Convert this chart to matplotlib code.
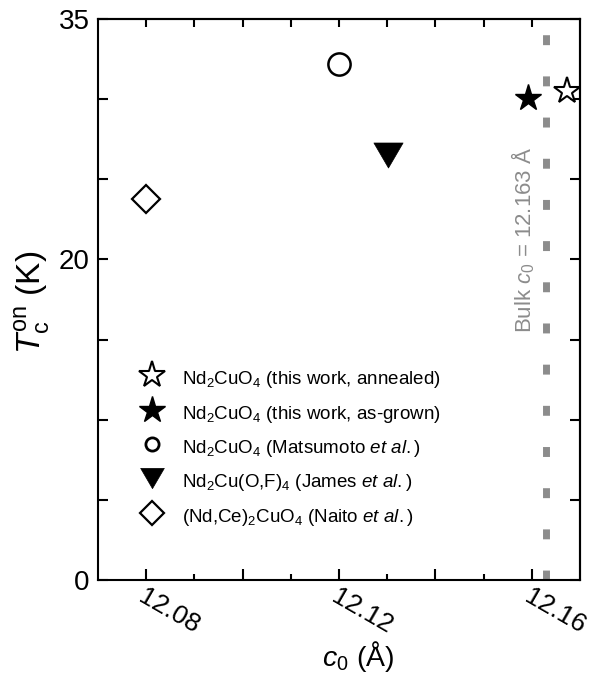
import matplotlib
matplotlib.use('Agg')
import matplotlib.pyplot as plt
import numpy as np
from matplotlib.lines import Line2D
from matplotlib.path import Path
import matplotlib.transforms as mtransforms

plt.rcParams['font.family'] = ['Liberation Sans', 'DejaVu Sans']
plt.rcParams['mathtext.fontset'] = 'custom'
plt.rcParams['mathtext.rm'] = 'Liberation Sans'
plt.rcParams['mathtext.it'] = 'Liberation Sans:italic'
plt.rcParams['mathtext.bf'] = 'Liberation Sans:bold'

# ---------------- data ----------------
series_labels = [
    r'Nd$_2$CuO$_4$ (this work, annealed)',
    r'Nd$_2$CuO$_4$ (this work, as-grown)',
    r'Nd$_2$CuO$_4$ (Matsumoto $\mathit{et\ al.}$)',
    r'Nd$_2$Cu(O,F)$_4$ (James $\mathit{et\ al.}$)',
    r'(Nd,Ce)$_2$CuO$_4$ (Naito $\mathit{et\ al.}$)',
]
c0_values = [12.1672, 12.1592, 12.1200, 12.1302, 12.0800]
tc_values = [30.5, 30.1, 32.2, 26.5, 23.8]
bulk_c0 = 12.163
bulk_label = r'Bulk $c_0$ = 12.163 Å'
xtick_labeled = [12.08, 12.12, 12.16]
ytick_labeled = [0, 20, 35]

# ---------------- styles ----------------
tri = Path([(-1, 0.857), (1, 0.857), (0, -0.857), (-1, 0.857)],
           [Path.MOVETO, Path.LINETO, Path.LINETO, Path.CLOSEPOLY])
styles = [
    dict(marker='*', ms=20, mfc='white', mec='black', mew=1.5),
    dict(marker='*', ms=20, mfc='black', mec='black', mew=1.0),
    dict(marker='o', ms=16, mfc='white', mec='black', mew=1.8),
    dict(marker=tri, ms=21, mfc='black', mec='black', mew=0.5),
    dict(marker='D', ms=14.2, mfc='white', mec='black', mew=1.6),
]
leg_styles = [
    dict(marker='*', ms=20, mfc='white', mec='black', mew=1.5),
    dict(marker='*', ms=20, mfc='black', mec='black', mew=1.0),
    dict(marker='o', ms=9.5, mfc='white', mec='black', mew=2.0),
    dict(marker=tri, ms=17, mfc='black', mec='black', mew=0.5),
    dict(marker='D', ms=12.0, mfc='white', mec='black', mew=1.6),
]

fig = plt.figure(figsize=(6.03, 6.75), dpi=100)
ax = fig.add_axes([0.1625, 0.1407, 0.7994, 0.8311])

ax.set_xlim(12.07, 12.17)
ax.set_ylim(0, 35)

# bulk line
ax.plot([bulk_c0, bulk_c0], [0, 35], color='#8c8c8c', lw=5.0,
        linestyle=(0, (1.43, 4.5)), solid_capstyle='butt',
        dash_capstyle='butt', zorder=1)
ax.text(12.1583, 21.2, bulk_label, rotation=90, ha='center', va='center',
        color='#8c8c8c', fontsize=16)

for x, y, st in zip(c0_values, tc_values, styles):
    ax.plot([x], [y], linestyle='None', clip_on=False, zorder=3, **st)

handles = [Line2D([], [], linestyle='None', **st) for st in leg_styles]
leg = ax.legend(handles, series_labels, loc='center left',
                bbox_to_anchor=(0.08, 0.237), frameon=False, fontsize=13.5,
                handlelength=1.6, handletextpad=0.8, handleheight=1.5,
                labelspacing=0.57, borderpad=0, borderaxespad=0, numpoints=1)

# ticks
for sp in ax.spines.values():
    sp.set_linewidth(1.5)
xmaj = np.round(np.arange(12.08, 12.1601, 0.02), 2)
xmin = np.round(np.arange(12.09, 12.1601, 0.02), 2)
ax.set_xticks(xmaj)
ax.set_xticklabels([('%.2f' % v) if v in xtick_labeled else '' for v in xmaj],
                   fontsize=19, rotation=-30, ha='left', va='top',
                   rotation_mode='anchor')
ax.set_xticks(xmin, minor=True)
yt = np.arange(0, 36, 5)
ax.set_yticks(yt)
ax.set_yticklabels([str(v) if v in ytick_labeled else '' for v in yt], fontsize=20)
ax.tick_params(axis='x', which='major', direction='in', length=8, width=1.5, pad=3)
ax.tick_params(axis='x', which='minor', direction='in', length=4.3, width=1.5)
ax.tick_params(axis='y', which='major', direction='in', length=7, width=1.5, pad=6)

off = mtransforms.ScaledTranslation(0.5 / 72, 0, fig.dpi_scale_trans)
for lab in ax.get_xticklabels():
    lab.set_transform(lab.get_transform() + off)

secx = ax.secondary_xaxis('top')
secx.set_xticks(np.round(np.arange(12.08, 12.1601, 0.01), 2))
secx.xaxis.set_major_formatter(matplotlib.ticker.NullFormatter())
secx.tick_params(direction='in', length=6, width=1.5)
secx.spines['top'].set_linewidth(1.5)
secy = ax.secondary_yaxis('right')
secy.set_yticks(yt)
secy.yaxis.set_major_formatter(matplotlib.ticker.NullFormatter())
secy.tick_params(direction='in', length=7, width=1.5)
secy.spines['right'].set_linewidth(1.5)

ax.set_xlabel(r'$c_0$ (Å)', fontsize=20.5)
ax.xaxis.set_label_coords(0.54, -0.105)
ax.xaxis.label.set_va('top')
ax.set_ylabel(r'$T_\mathrm{c}^\mathrm{on}$ (K)', fontsize=24)
ax.yaxis.set_label_coords(-0.095, 0.495)

fig.savefig('out.png', dpi=100)
